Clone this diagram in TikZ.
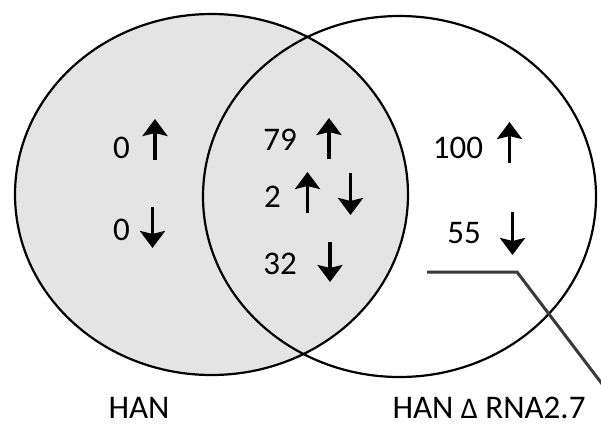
\documentclass[tikz,border=0pt]{standalone}
\usepackage{fontspec}
\setmainfont{Carlito}
\usetikzlibrary{arrows.meta,shapes.geometric}
\definecolor{setgray}{HTML}{E4E4E4}
\definecolor{leadgray}{HTML}{3A3A3A}
\tikzset{
  setring/.style={ellipse, draw=black, line width=2.2pt, inner sep=0pt,
    minimum width=393pt, minimum height=361pt},
  count/.style={inner sep=0pt, font=\fontsize{33}{36}\selectfont},
  setname/.style={inner sep=0pt, anchor=base, font=\fontsize{33}{36}\selectfont},
  regarrow/.style={line width=3.4pt, draw=black,
    -{Stealth[length=17pt,width=25pt,inset=3pt]}},
  leader/.style={line width=3pt, draw=leadgray}
}
\begin{document}
\begin{tikzpicture}[x=1pt,y=-1pt]
\useasboundingbox (0,0) rectangle (601,426);
\fill[white] (0,0) rectangle (601,426);

% the two sets
\node[setring, fill=setgray, draw=none] (hanfill) at (211.5,194.5) {};
\node[setring] (delta) at (399.5,196.5) {};
\node[setring] (han) at (211.5,194.5) {};

% counts
\node[count] (c1) at (121.5,147.5) {0};
\node[count] (c2) at (121.5,230) {0};
\node[count] (c3) at (280,140) {79};
\node[count] (c4) at (272.5,196.5) {2};
\node[count] (c5) at (280,263.5) {32};
\node[count] (c6) at (458,148) {100};
\node[count] (c7) at (464,233) {55};

% up / down markers
\draw[regarrow] (155,160) -- (155,119);
\draw[regarrow] (152.5,207) -- (152.5,248);
\draw[regarrow] (329,159) -- (329,118);
\draw[regarrow] (307.5,213) -- (307.5,172);
\draw[regarrow] (350.5,173) -- (350.5,215);
\draw[regarrow] (330,242) -- (330,282);
\draw[regarrow] (509.5,163) -- (509.5,122);
\draw[regarrow] (512.5,212) -- (512.5,255);

% set names
\node[setname] (lhan) at (139,418) {HAN};
\node[setname] (ldelta) at (489,418) {HAN {\fontsize{30}{33}\selectfont Δ} RNA2.7};

% leader line
\coordinate (ls) at (427,272);
\coordinate (lk) at (517,272);
\coordinate (le) at (612,397);
\draw[leader] (ls) -- (lk) -- (le);
\end{tikzpicture}
\end{document}
